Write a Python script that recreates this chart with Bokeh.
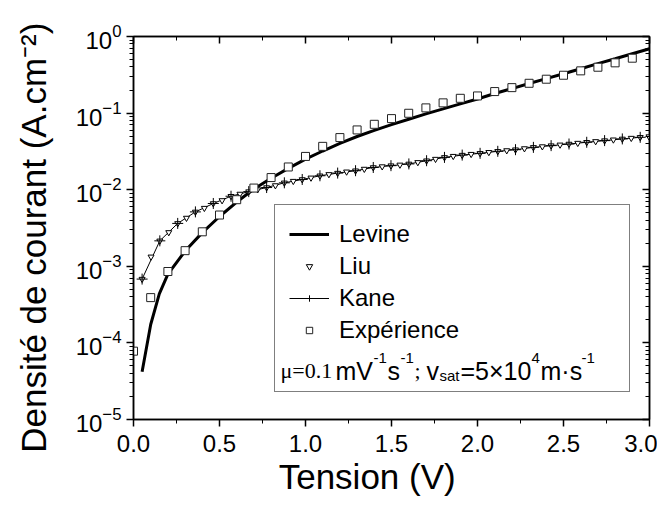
from bokeh.plotting import figure
from bokeh.models import (LinearAxis, LogAxis, Range1d, SingleIntervalTicker, LogTicker,
                          PrintfTickFormatter, CustomJSTickFormatter, Legend, LegendItem, Label)
from bokeh.embed import file_html
from bokeh.resources import INLINE

# ---------------- data ----------------
levine_v = [0.05, 0.10, 0.15, 0.20, 0.30, 0.40, 0.50, 0.60, 0.70, 0.80, 0.90, 1.00,
            1.10, 1.20, 1.30, 1.40, 1.50, 1.60, 1.70, 1.80, 1.90, 2.00, 2.10, 2.20,
            2.30, 2.40, 2.50, 2.60, 2.70, 2.80, 2.90, 3.00]
levine_j = [4.2e-5, 1.74e-4, 4.37e-4, 7.9e-4, 1.58e-3, 2.75e-3, 4.47e-3, 6.9e-3, 1.02e-2,
            1.41e-2, 1.9e-2, 2.51e-2, 3.2e-2, 4.03e-2, 4.95e-2, 5.96e-2, 7.08e-2, 8.32e-2,
            9.77e-2, 0.1135, 0.132, 0.153, 0.18, 0.209, 0.243, 0.282, 0.327, 0.38, 0.442,
            0.513, 0.596, 0.692]

liu_v = [0.050, 0.102, 0.153, 0.205, 0.257, 0.308, 0.360, 0.412, 0.464, 0.515, 0.567, 0.619,
         0.670, 0.722, 0.774, 0.825, 0.877, 0.929, 0.981, 1.032, 1.084, 1.136, 1.187, 1.239,
         1.291, 1.342, 1.394, 1.446, 1.497, 1.549, 1.601, 1.653, 1.704, 1.756, 1.808, 1.859,
         1.911, 1.963, 2.015, 2.066, 2.118, 2.170, 2.221, 2.273, 2.325, 2.377, 2.428, 2.480,
         2.532, 2.583, 2.635, 2.687, 2.739, 2.790, 2.842, 2.894, 2.946, 2.997]
liu_j = [6.81e-4, 1.33e-3, 2.15e-3, 2.77e-3, 3.63e-3, 4.27e-3, 5.13e-3, 5.75e-3, 6.61e-3,
         7.24e-3, 8.22e-3, 8.79e-3, 9.44e-3, 1.005e-2, 1.067e-2, 1.135e-2, 1.23e-2, 1.294e-2,
         1.36e-2, 1.429e-2, 1.52e-2, 1.585e-2, 1.648e-2, 1.714e-2, 1.77e-2, 1.862e-2, 1.95e-2,
         2.005e-2, 2.06e-2, 2.11e-2, 2.17e-2, 2.275e-2, 2.39e-2, 2.51e-2, 2.64e-2, 2.74e-2,
         2.83e-2, 2.91e-2, 2.985e-2, 3.08e-2, 3.17e-2, 3.25e-2, 3.33e-2, 3.45e-2, 3.57e-2,
         3.66e-2, 3.76e-2, 3.855e-2, 3.95e-2, 4.06e-2, 4.16e-2, 4.27e-2, 4.375e-2, 4.49e-2,
         4.6e-2, 4.72e-2, 4.83e-2, 4.94e-2]

kane_v = [0.050, 0.153, 0.257, 0.360, 0.464, 0.567, 0.670, 0.774, 0.877, 0.981, 1.084,
          1.187, 1.291, 1.394, 1.497, 1.601, 1.704, 1.808, 1.911, 2.015, 2.118, 2.221,
          2.325, 2.428, 2.532, 2.635, 2.739, 2.842, 2.946]
kane_j = [6.81e-4, 2.15e-3, 3.63e-3, 5.13e-3, 6.61e-3, 8.22e-3, 9.44e-3, 1.067e-2, 1.23e-2,
          1.36e-2, 1.52e-2, 1.648e-2, 1.77e-2, 1.95e-2, 2.06e-2, 2.17e-2, 2.39e-2, 2.64e-2,
          2.83e-2, 2.985e-2, 3.17e-2, 3.33e-2, 3.57e-2, 3.76e-2, 3.95e-2, 4.16e-2, 4.375e-2,
          4.6e-2, 4.83e-2]

exp_v = [0.0, 0.1, 0.2, 0.3, 0.4, 0.5, 0.6, 0.7, 0.8, 0.9, 1.0, 1.1, 1.2, 1.3, 1.4,
         1.5, 1.6, 1.7, 1.8, 1.9, 2.0, 2.1, 2.2, 2.3, 2.4, 2.5, 2.6, 2.7, 2.8, 2.9]
exp_j = [7.8e-5, 3.9e-4, 8.55e-4, 1.6e-3, 2.82e-3, 4.67e-3, 7.4e-3, 1.05e-2, 1.44e-2,
         1.98e-2, 2.72e-2, 3.68e-2, 4.79e-2, 6.03e-2, 7.14e-2, 8.47e-2, 9.95e-2, 0.117,
         0.136, 0.156, 0.1675, 0.191, 0.215, 0.245, 0.277, 0.312, 0.356, 0.397, 0.453, 0.521]

series_names = ["Levine", "Liu", "Kane", "Expérience"]
NB = "\u00a0"
x_title = "Tension (V)" + NB * 5
y_title = "Densité de courant (A.cm⁻²)" + NB * 2

FONT = "Liberation Sans"
SERIF = "Liberation Serif"

p = figure(frame_width=516, frame_height=383,
           x_range=Range1d(0, 3), y_range=Range1d(1e-5, 1), y_axis_type="log",
           output_backend="svg", toolbar_location=None,
           min_border_left=133, min_border_right=8, min_border_top=36, min_border_bottom=80)
p.grid.visible = False
p.outline_line_color = "black"
p.outline_line_width = 1.5
p.background_fill_color = "white"


def style_axis(ax, inward):
    ax.axis_line_width = 1.5
    ax.major_tick_line_width = 1.5
    ax.minor_tick_line_width = 1
    if inward:
        ax.major_tick_in, ax.major_tick_out = 7, 0
        ax.minor_tick_in, ax.minor_tick_out = 4, 0
    else:
        ax.major_tick_in, ax.major_tick_out = 0, 7
        ax.minor_tick_in, ax.minor_tick_out = 0, 4
    ax.major_label_text_font = FONT
    ax.major_label_text_font_size = "24px"
    ax.major_label_text_color = "black"
    ax.axis_label_text_font = FONT
    ax.axis_label_text_font_size = "35px"
    ax.axis_label_text_font_style = "normal"
    ax.axis_label_text_color = "black"


xax = p.xaxis[0]
xax.ticker = SingleIntervalTicker(interval=0.5, num_minor_ticks=2)
xax.formatter = PrintfTickFormatter(format="%.1f")
xax.axis_label = x_title
style_axis(xax, False)
xax.major_label_standoff = 8
xax.axis_label_standoff = 2

yax = p.yaxis[0]
yax.ticker = LogTicker(num_minor_ticks=10)
yax.axis_label = y_title
style_axis(yax, False)
yax.major_label_standoff = 5
yax.axis_label_standoff = 20

blank = CustomJSTickFormatter(code="return ''")
top = LinearAxis(ticker=SingleIntervalTicker(interval=0.5, num_minor_ticks=2), formatter=blank)
style_axis(top, True)
top.major_label_text_font_size = "0px"
p.add_layout(top, "above")
right = LogAxis(ticker=LogTicker(num_minor_ticks=10), formatter=blank)
style_axis(right, True)
right.major_label_text_font_size = "0px"
p.add_layout(right, "right")

# ---------------- series ----------------
r_levine = p.line(levine_v, levine_j, line_width=3, line_color="black")
r_kane_line = p.line(kane_v, kane_j, line_width=1, line_color="black")
r_liu = p.scatter(liu_v, liu_j, marker="inverted_triangle", size=6,
                  line_color="black", fill_color="white", line_width=1)
r_kane = p.scatter(kane_v, kane_j, marker="cross", size=11, line_color="black", line_width=1)
r_exp = p.scatter(exp_v, exp_j, marker="square", size=8,
                  line_color="#222222", fill_color="white", line_width=1)
r_dummy = p.scatter(x=[], y=[], marker="circle", size=1, alpha=0)

legend = Legend(items=[
    LegendItem(label=series_names[0], renderers=[r_levine]),
    LegendItem(label=series_names[1], renderers=[r_liu]),
    LegendItem(label=series_names[2], renderers=[r_kane_line, r_kane]),
    LegendItem(label=series_names[3], renderers=[r_exp]),
    LegendItem(label=" ", renderers=[r_dummy]),
], location=(141, 27))
legend.label_text_font = FONT
legend.label_text_font_size = "24px"
legend.label_text_color = "black"
legend.glyph_width = 40
legend.glyph_height = 16
legend.label_height = 30
legend.label_width = 276
legend.label_standoff = 10
legend.padding = 14
legend.spacing = 2
legend.border_line_color = "black"
legend.border_line_width = 1.5
legend.background_fill_alpha = 0
p.add_layout(legend)

# ---------------- parameter line inside the legend ----------------
PX_PER_V = 516 / 3.0
PX_PER_DEC = 383 / 5.0
X0, Y0 = 133, 36


def xd(px):
    return (px - X0) / PX_PER_V


def yd(py):
    return 10 ** (-(py - Y0) / PX_PER_DEC)


pieces = [
    ("μ=0.1", SERIF, "22px", 280, 370),
    ("mV", FONT, "25px", 335, 370),
    ("-1", FONT, "15px", 373, 357),
    ("s", FONT, "25px", 387, 370),
    ("-1", FONT, "15px", 400, 357),
    (";", SERIF, "22px", 414, 370),
    ("v", FONT, "25px", 426, 370),
    ("sat", FONT, "15px", 439, 375),
    ("=5×10", FONT, "25px", 460, 370),
    ("4", FONT, "15px", 531, 357),
    ("m·s", FONT, "25px", 540, 370),
    ("-1", FONT, "15px", 581, 357),
]
for txt, fnt, size, px, py in pieces:
    p.add_layout(Label(x=xd(px), y=yd(py), text=txt, text_font=fnt, text_font_size=size,
                       text_baseline="alphabetic", text_align="left", text_color="black"))

open("out.html", "w").write(file_html(p, INLINE))
